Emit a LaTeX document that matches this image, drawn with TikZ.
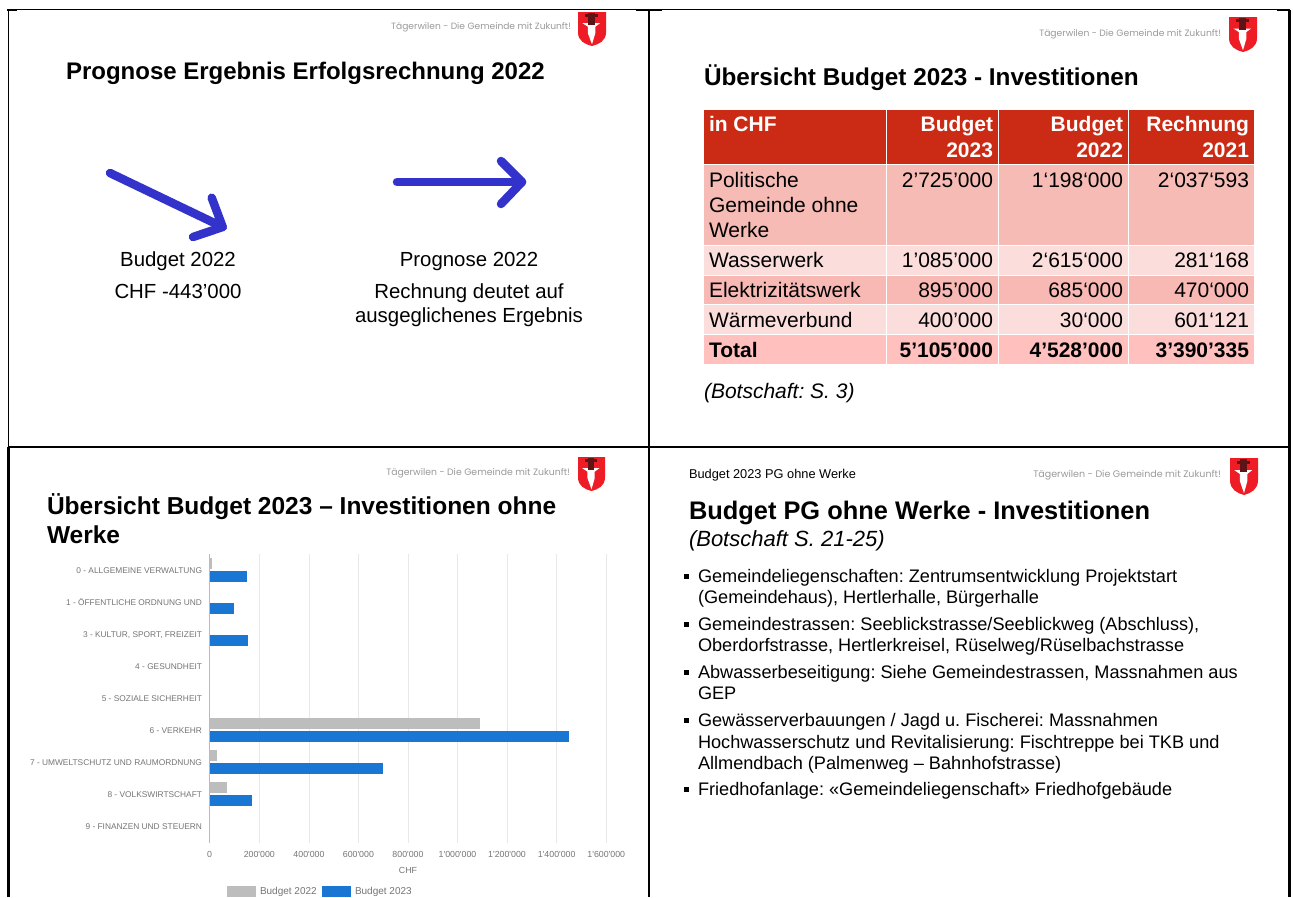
\documentclass[tikz,border=0pt]{standalone}
\usepackage{fontspec}
\setmainfont{Liberation Sans}
\newfontfamily\chartf{Liberation Sans}
\newfontfamily\tagf{Poppins}
\definecolor{arrowblue}{HTML}{3333CC}
\definecolor{hdr}{HTML}{CB2A14}
\definecolor{rowa}{HTML}{F6BBB5}
\definecolor{rowb}{HTML}{FBDEDC}
\definecolor{rowc}{HTML}{F8B9B5}
\definecolor{rowt}{HTML}{FFC0BE}
\definecolor{barb}{HTML}{1976D2}
\definecolor{barg}{HTML}{BDBDBD}
\definecolor{gridc}{HTML}{E8E8E8}
\definecolor{charttext}{HTML}{757575}
\definecolor{tagc}{HTML}{9A9A9A}
\definecolor{shield}{HTML}{EE1C25}
\definecolor{hilt}{HTML}{5E1414}
\tikzset{
  txt/.style={inner sep=0pt,outer sep=0pt,anchor=base west},
  txtr/.style={inner sep=0pt,outer sep=0pt,anchor=base east},
  txtc/.style={inner sep=0pt,outer sep=0pt,anchor=base},
  thinframe/.style={line width=1.1pt,black},
  thickframe/.style={line width=2.4pt,black},
  bigarrow/.style={line width=8.5pt,arrowblue,line cap=round,line join=round},
  slidetitle/.style={txt,font=\fontsize{#1}{28}\selectfont\bfseries},
  bodytext/.style={txtc,font=\fontsize{20.4}{24}\selectfont},
  cell/.style={txt,font=\fontsize{21}{25}\selectfont},
  cellr/.style={txtr,font=\fontsize{21}{25}\selectfont},
  hcell/.style={txt,white,font=\fontsize{21}{25}\selectfont\bfseries},
  hcellr/.style={txtr,white,font=\fontsize{21}{25}\selectfont\bfseries},
  tcell/.style={txt,font=\fontsize{21}{25}\selectfont\bfseries},
  tcellr/.style={txtr,font=\fontsize{21}{25}\selectfont\bfseries},
  catlabel/.style={txtr,charttext,font=\chartf\fontsize{8.35}{10}\selectfont},
  ticklabel/.style={txtc,charttext,font=\chartf\fontsize{8.8}{10}\selectfont},
  legendlabel/.style={txt,charttext,font=\chartf\fontsize{10}{12}\selectfont},
  bullettext/.style={txt,font=\fontsize{18.15}{21}\selectfont},
  bulletmark/.style={fill=black,inner sep=0pt,minimum size=5pt},
  tagline/.style={txtr,tagc,font=\tagf\fontsize{#1}{10}\selectfont},
}
\newcommand{\logoat}[4]{%
  \begin{scope}[shift={(#1,#2)},x=#3pt,y=-#4pt]
    \fill[shield] (0,0) -- (1,0) -- (1,.6) .. controls (1,.85) and (.75,.95) .. (.5,1) .. controls (.25,.95) and (0,.85) .. (0,.6) -- cycle;
    \fill[white] (.35,.38) -- (.62,.38) -- (.62,.62) -- (.5,.95) -- (.35,.62) -- cycle;
    \fill[white] (.16,.33) -- (.79,.33) -- (.62,.43) -- (.35,.43) -- cycle;
    \fill[hilt] (.25,.07) rectangle (.72,.15);
    \fill[hilt] (.36,.03) rectangle (.61,.37);
  \end{scope}}
\begin{document}
\begin{tikzpicture}[x=1pt,y=-1pt]
\frenchspacing
\useasboundingbox (0,0) rectangle (1293,897);
\fill[white] (0,0) rectangle (1293,897);
% frame
\draw[thinframe] (7,9.5) -- (1290,9.5);
\draw[thickframe] (7,10) -- (17,10);
\draw[thickframe] (636,10) -- (662,10);
\draw[thickframe] (1277,10) -- (1290,10);
\draw[thinframe] (8.5,10) -- (8.5,447);
\draw[thickframe] (8.5,447) -- (8.5,897);
\draw[thinframe] (649,10) -- (649,447);
\draw[thickframe] (649,447) -- (649,897);
\draw[thickframe] (1289.5,10) -- (1289.5,897);
\draw[thinframe] (8,447) -- (636,447);
\draw[thickframe] (636,447) -- (1290,447);
% slide 1
\node[tagline=9.1] (tag1) at (571,29) {Tägerwilen - Die Gemeinde mit Zukunft!};
\logoat{578}{12}{28}{34}
\node[slidetitle=24] (t1) at (66,79) {Prognose Ergebnis Erfolgsrechnung 2022};
\coordinate (a1s) at (110,173);
\coordinate (a1t) at (222.7,227);
\coordinate (a1u) at (211.7,197.7);
\coordinate (a1l) at (193,237);
\draw[bigarrow] (a1s) -- (a1t);
\draw[bigarrow] (a1u) -- (a1t) -- (a1l);
\coordinate (a2s) at (397,182);
\coordinate (a2t) at (522,182);
\coordinate (a2u) at (501,161);
\coordinate (a2l) at (501,204);
\draw[bigarrow] (a2s) -- (a2t);
\draw[bigarrow] (a2u) -- (a2t) -- (a2l);
\node[bodytext] (a1) at (178,266.5) {Budget 2022};
\node[bodytext] (a2) at (178,298) {CHF -443’000};
\node[bodytext] (b1) at (469,266.5) {Prognose 2022};
\node[bodytext] (b2) at (469,298.5) {Rechnung deutet auf};
\node[bodytext] (b3) at (469,322) {ausgeglichenes Ergebnis};
% slide 2
\node[tagline=9.2] (tag2) at (1221,36) {Tägerwilen - Die Gemeinde mit Zukunft!};
\logoat{1229}{17}{28}{35}
\node[slidetitle=24.3] (t2) at (704,85.5) {Übersicht Budget 2023 - Investitionen};
\fill[hdr] (704,110) rectangle (1254,164);
\fill[rowa] (704,165) rectangle (1254,245);
\fill[rowb] (704,246) rectangle (1254,275);
\fill[rowc] (704,276) rectangle (1254,304);
\fill[rowb] (704,305) rectangle (1254,334);
\fill[rowt] (704,335) rectangle (1254,364);
\draw[white,line width=1pt] (886.5,110) -- (886.5,364) (998.5,110) -- (998.5,364) (1128,110) -- (1128,364);
\node[hcell] (h0) at (709,131.5) {in CHF};
\node[hcellr] (h1) at (993,131.5) {Budget};
\node[hcellr] (h1b) at (993,157.5) {2023};
\node[hcellr] (h2) at (1123,131.5) {Budget};
\node[hcellr] (h2b) at (1123,157.5) {2022};
\node[hcellr] (h3) at (1249,131.5) {Rechnung};
\node[hcellr] (h3b) at (1249,157.5) {2021};
\node[cell] (r1a) at (709,187.5) {Politische};
\node[cell] (r1b) at (709,212.5) {Gemeinde ohne};
\node[cell] (r1c) at (709,237.5) {Werke};
\node[cellr] (r11) at (993,187.5) {2’725’000};
\node[cellr] (r12) at (1123,187.5) {1‘198‘000};
\node[cellr] (r13) at (1249,187.5) {2‘037‘593};
\node[cell] (r2) at (709,267.5) {Wasserwerk};
\node[cellr] (r21) at (993,267.5) {1’085’000};
\node[cellr] (r22) at (1123,267.5) {2‘615‘000};
\node[cellr] (r23) at (1249,267.5) {281‘168};
\node[cell] (r3) at (709,297.5) {Elektrizitätswerk};
\node[cellr] (r31) at (993,297.5) {895’000};
\node[cellr] (r32) at (1123,297.5) {685‘000};
\node[cellr] (r33) at (1249,297.5) {470‘000};
\node[cell] (r4) at (709,327.5) {Wärmeverbund};
\node[cellr] (r41) at (993,327.5) {400’000};
\node[cellr] (r42) at (1123,327.5) {30‘000};
\node[cellr] (r43) at (1249,327.5) {601‘121};
\node[tcell] (r5) at (709,357.5) {Total};
\node[tcellr] (r51) at (993,357.5) {5’105’000};
\node[tcellr] (r52) at (1123,357.5) {4’528’000};
\node[tcellr] (r53) at (1249,357.5) {3’390’335};
\node[txt,font=\fontsize{21}{25}\selectfont\itshape] (bot) at (704,398) {(Botschaft: S. 3)};
% slide 3
\node[tagline=9.3] (tag3) at (570,475) {Tägerwilen - Die Gemeinde mit Zukunft!};
\logoat{578}{457}{27}{34}
\node[slidetitle=24.5] (t3) at (47,514) {Übersicht Budget 2023 – Investitionen ohne};
\node[slidetitle=24.5] (t3b) at (47,543) {Werke};
\foreach \xx in {259.3,309,358.4,408,457.5,507,556.7,606.3} \draw[gridc,line width=.8pt] (\xx,554) -- (\xx,843);
\draw[gridc!80!black,line width=.8pt] (209.5,554) -- (209.5,843);
% bars: gray from c-12 to c-1, blue from c+1 to c+12
\newcommand{\gbar}[2]{\fill[barg] (209.8,#1-12) rectangle (#2,#1-1);}
\newcommand{\bbar}[2]{\fill[barb] (209.8,#1+1) rectangle (#2,#1+12);}
\gbar{570}{212.3}\bbar{570}{246.7}
\bbar{602}{234.3}
\bbar{634}{248.3}
\gbar{729.7}{480}\bbar{729.7}{569}
\gbar{761.5}{216.7}\bbar{761.5}{383.3}
\gbar{793.5}{226.7}\bbar{793.5}{251.7}
\node[catlabel] (c0) at (202,573) {0 - ALLGEMEINE VERWALTUNG};
\node[catlabel] (c1) at (202,605) {1 - ÖFFENTLICHE ORDNUNG UND};
\node[catlabel] (c3) at (202,637) {3 - KULTUR, SPORT, FREIZEIT};
\node[catlabel] (c4) at (202,669) {4 - GESUNDHEIT};
\node[catlabel] (c5) at (202,701) {5 - SOZIALE SICHERHEIT};
\node[catlabel] (c6) at (202,733) {6 - VERKEHR};
\node[catlabel] (c7) at (202,765) {7 - UMWELTSCHUTZ UND RAUMORDNUNG};
\node[catlabel] (c8) at (202,797) {8 - VOLKSWIRTSCHAFT};
\node[catlabel] (c9) at (202,829) {9 - FINANZEN UND STEUERN};
\node[ticklabel] (x0) at (209.5,857.5) {0};
\node[ticklabel] (x1) at (259.3,857.5) {200'000};
\node[ticklabel] (x2) at (309,857.5) {400'000};
\node[ticklabel] (x3) at (358.4,857.5) {600'000};
\node[ticklabel] (x4) at (408,857.5) {800'000};
\node[ticklabel] (x5) at (457.5,857.5) {1'000'000};
\node[ticklabel] (x6) at (507,857.5) {1'200'000};
\node[ticklabel] (x7) at (556.7,857.5) {1'400'000};
\node[ticklabel] (x8) at (606.3,857.5) {1'600'000};
\node[ticklabel] (chf) at (408,873.5) {CHF};
\fill[barg] (227,886) rectangle (256,897);
\node[legendlabel] (l1) at (260,894) {Budget 2022};
\fill[barb] (322,886) rectangle (351,897);
\node[legendlabel] (l2) at (355,894) {Budget 2023};
% slide 4
\node[txt,font=\fontsize{12.8}{14}\selectfont] (hd4) at (689,478.5) {Budget 2023 PG ohne Werke};
\node[tagline=9.5] (tag4) at (1221,477) {Tägerwilen - Die Gemeinde mit Zukunft!};
\logoat{1230}{458}{28}{37}
\node[slidetitle=25.4] (t4) at (689,519.5) {Budget PG ohne Werke - Investitionen};
\node[txt,font=\fontsize{22}{25}\selectfont\itshape] (t4b) at (689,546) {(Botschaft S. 21-25)};
\node[bulletmark] (m1) at (686,576) {};
\node[bullettext] (p1) at (698,582) {Gemeindeliegenschaften: Zentrumsentwicklung Projektstart};
\node[bullettext] (p1b) at (698,603) {(Gemeindehaus), Hertlerhalle, Bürgerhalle};
\node[bulletmark] (m2) at (686,624) {};
\node[bullettext] (p2) at (698,630) {Gemeindestrassen: Seeblickstrasse/Seeblickweg (Abschluss),};
\node[bullettext] (p2b) at (698,651) {Oberdorfstrasse, Hertlerkreisel, Rüselweg/Rüselbachstrasse};
\node[bulletmark] (m3) at (686,672) {};
\node[bullettext] (p3) at (698,678) {Abwasserbeseitigung: Siehe Gemeindestrassen, Massnahmen aus};
\node[bullettext] (p3b) at (698,699) {GEP};
\node[bulletmark] (m4) at (686,720) {};
\node[bullettext] (p4) at (698,726) {Gewässerverbauungen / Jagd u. Fischerei: Massnahmen};
\node[bullettext] (p4b) at (698,748) {Hochwasserschutz und Revitalisierung: Fischtreppe bei TKB und};
\node[bullettext] (p4c) at (698,769) {Allmendbach (Palmenweg – Bahnhofstrasse)};
\node[bulletmark] (m5) at (686,789) {};
\node[bullettext] (p5) at (698,795) {Friedhofanlage: «Gemeindeliegenschaft» Friedhofgebäude};
\end{tikzpicture}
\end{document}
